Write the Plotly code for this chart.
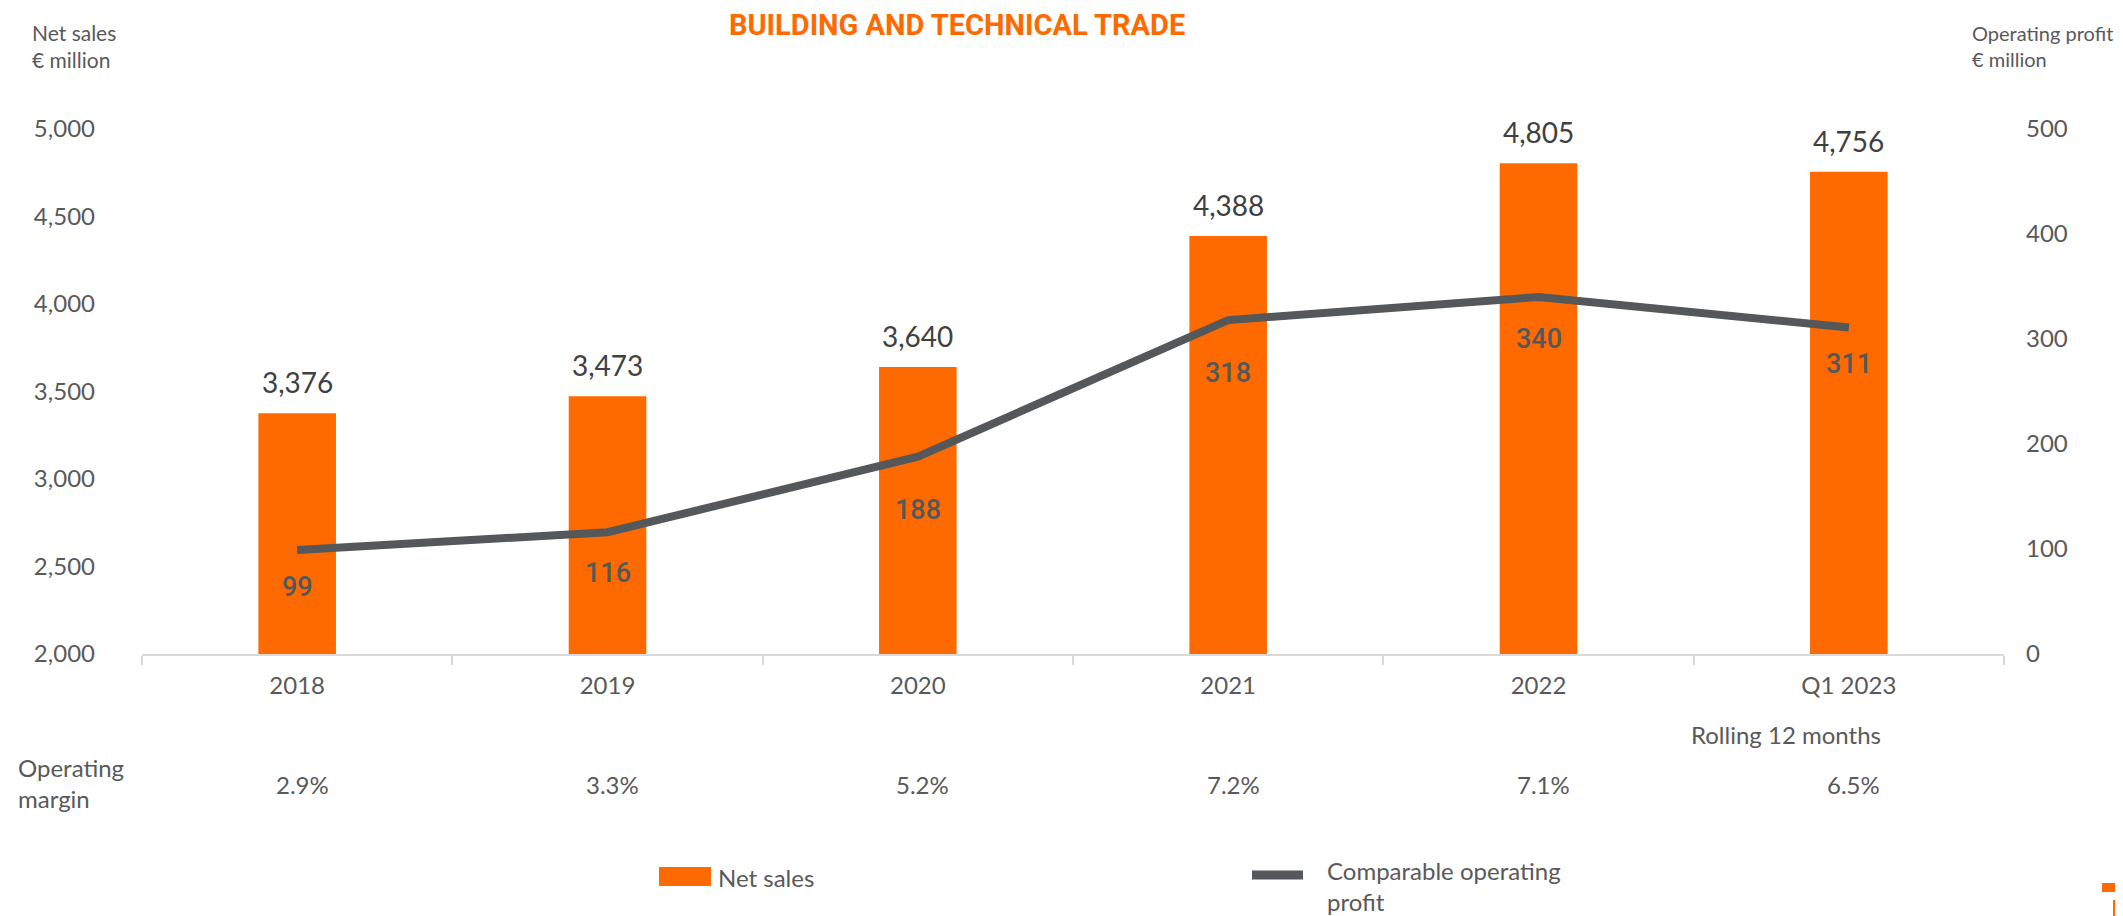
import plotly.graph_objects as go

# ---------------- data ----------------
categories = ["2018", "2019", "2020", "2021", "2022", "Q1 2023"]
net_sales = [3376, 3473, 3640, 4388, 4805, 4756]
operating_profit = [99, 116, 188, 318, 340, 311]
operating_margin = ["2.9%", "3.3%", "5.2%", "7.2%", "7.1%", "6.5%"]
left_ticks = [2000, 2500, 3000, 3500, 4000, 4500, 5000]
right_ticks = [0, 100, 200, 300, 400, 500]

# ---------------- layout helpers ----------------
# the html page has an 8px body margin, so the figure starts at (8, 8)
OFF = 8
PAGE_W, PAGE_H = 2123, 916
W, H = PAGE_W - OFF, PAGE_H - OFF
L, R, T, B = 142, 2004, 129, 654  # plot area in page pixels


def px(x):
    return (x - L) / (R - L)


def py(y):
    return (B - y) / (B - T)


ORANGE = "#ff6a00"
DARK = "#54585a"
TXT = "#595959"
LABEL = "#404040"
AXIS = "#d9d9d9"
FONT = "Lato"

profit_label_shift = [-37, -41, -53, -53, -42, -37]

fig = go.Figure()

fig.add_trace(go.Bar(
    x=categories, y=net_sales, name="Net sales",
    marker=dict(color=ORANGE, line=dict(width=0)),
    width=0.25, yaxis="y", showlegend=False, hoverinfo="x+y",
))

fig.add_trace(go.Scatter(
    x=categories, y=operating_profit, name="Comparable operating profit",
    mode="lines", line=dict(color=DARK, width=8),
    yaxis="y2", showlegend=False,
))

annotations = []
for i, v in enumerate(net_sales):
    annotations.append(dict(
        x=i, y=v, xref="x", yref="y", text=f"{v:,}", showarrow=False,
        yanchor="middle", yshift=31,
        font=dict(family=FONT, size=28, color=LABEL),
    ))
for i, (v, s) in enumerate(zip(operating_profit, profit_label_shift)):
    annotations.append(dict(
        x=i, y=v, xref="x", yref="y2", text=f"{v}", showarrow=False,
        yanchor="middle", yshift=s,
        font=dict(family="Roboto", size=27, color=DARK, weight=500),
    ))
for i, m in enumerate(operating_margin):
    annotations.append(dict(
        x=i, y=py(784), xref="x", yref="paper", text=m, showarrow=False,
        xshift=5, yanchor="middle",
        font=dict(family=FONT, size=24, color=TXT),
    ))

annotations += [
    dict(x=px(1883), y=py(734), xref="paper", yref="paper",
         text="Rolling 12 months", showarrow=False, yanchor="middle",
         font=dict(family=FONT, size=24, color=TXT)),
    dict(x=px(16), y=py(783), xref="paper", yref="paper",
         text="Operating<br>margin", showarrow=False, xanchor="left",
         yanchor="middle", align="left",
         font=dict(family=FONT, size=24, color=TXT)),
    dict(x=px(957), y=py(25), xref="paper", yref="paper",
         text="<b>BUILDING AND TECHNICAL TRADE</b>", showarrow=False,
         yanchor="middle",
         font=dict(family="Roboto", size=29, color=ORANGE, weight=900)),
    dict(x=px(30), y=py(46), xref="paper", yref="paper",
         text="Net sales<br>€ million", showarrow=False, xanchor="left",
         yanchor="middle", align="left",
         font=dict(family=FONT, size=21, color=TXT)),
    dict(x=px(1970), y=py(46), xref="paper", yref="paper",
         text="Operating profit<br>€ million", showarrow=False, xanchor="left",
         yanchor="middle", align="left",
         font=dict(family=FONT, size=20, color=TXT)),
    dict(x=px(716), y=py(877), xref="paper", yref="paper",
         text="Net sales", showarrow=False, xanchor="left", yanchor="middle",
         font=dict(family=FONT, size=24, color=TXT)),
    dict(x=px(1325), y=py(886), xref="paper", yref="paper",
         text="Comparable operating<br>profit", showarrow=False,
         xanchor="left", yanchor="middle", align="left",
         font=dict(family=FONT, size=24, color=TXT)),
]

shapes = [
    # legend symbols
    dict(type="rect", xref="paper", yref="paper",
         x0=px(659), x1=px(711), y0=py(886), y1=py(867),
         fillcolor=ORANGE, line=dict(width=0)),
    dict(type="line", xref="paper", yref="paper",
         x0=px(1252), x1=px(1303), y0=py(875), y1=py(875),
         line=dict(color=DARK, width=9)),
    # logo fragment bottom-right
    dict(type="rect", xref="paper", yref="paper",
         x0=px(2102), x1=px(2123), y0=py(892), y1=py(883),
         fillcolor=ORANGE, line=dict(width=0)),
    dict(type="rect", xref="paper", yref="paper",
         x0=px(2113), x1=px(2123), y0=py(916), y1=py(900),
         fillcolor=ORANGE, line=dict(width=0)),
]

fig.update_layout(
    width=W, height=H,
    margin=dict(l=L - OFF, r=PAGE_W - R, t=T - OFF, b=PAGE_H - B, pad=0),
    paper_bgcolor="white", plot_bgcolor="white",
    font=dict(family=FONT, size=24, color=TXT),
    showlegend=False,
    xaxis=dict(
        type="category", range=[-0.5, len(categories) - 0.5],
        showgrid=False, zeroline=False,
        showline=True, linecolor=AXIS, linewidth=2,
        ticks="outside", tickson="boundaries", ticklen=9, tickwidth=2,
        tickcolor=AXIS, ticklabelstandoff=9, tickangle=0,
        tickfont=dict(family=FONT, size=24, color=TXT),
    ),
    yaxis=dict(
        range=[2000, 5000], tickvals=left_ticks,
        ticktext=[f"{v:,}" for v in left_ticks],
        showgrid=False, zeroline=False, showline=False, ticks="",
        ticklabelstandoff=46,
        tickfont=dict(family=FONT, size=24, color=TXT),
    ),
    yaxis2=dict(
        range=[0, 500], tickvals=right_ticks, overlaying="y", side="right",
        showgrid=False, zeroline=False, showline=False, ticks="",
        ticklabelstandoff=21,
        tickfont=dict(family=FONT, size=24, color=TXT),
    ),
    annotations=annotations,
    shapes=shapes,
)

fig.write_html("out.html")
